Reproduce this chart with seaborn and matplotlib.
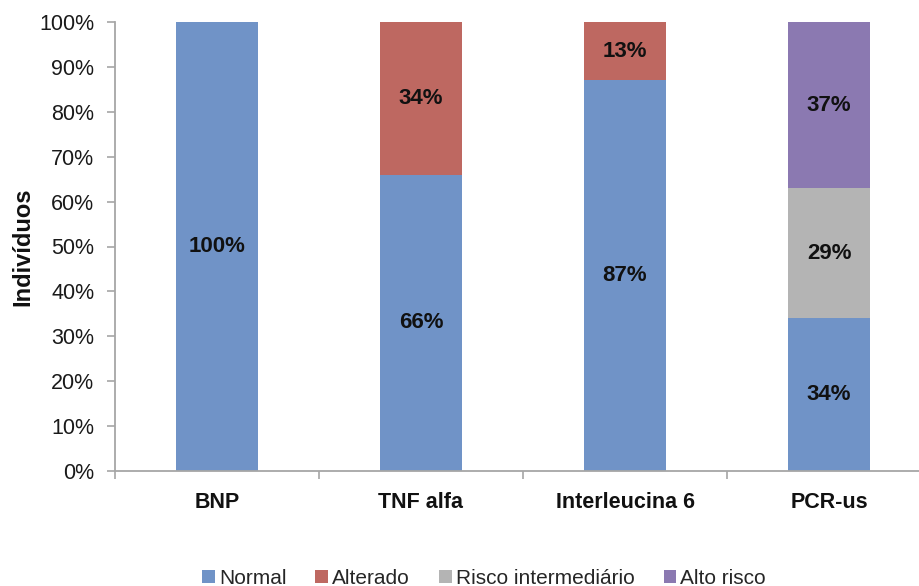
import matplotlib
matplotlib.use("Agg")
import matplotlib.pyplot as plt
from matplotlib.patches import Patch
from matplotlib.ticker import FixedLocator, PercentFormatter
import numpy as np
import pandas as pd
import seaborn as sns

# Marcadores e percentuais de indivíduos por classificação
categorias = ["BNP", "TNF alfa", "Interleucina 6", "PCR-us"]
series = ["Normal", "Alterado", "Risco intermediário", "Alto risco"]
normal = [100, 66, 87, 34]
alterado = [0, 34, 13, 0]
risco_intermediario = [0, 0, 0, 29]
alto_risco = [0, 0, 0, 37]
cores = ["#7093C7", "#BE6861", "#B4B4B4", "#8B79B1"]

valores = np.array([normal, alterado, risco_intermediario, alto_risco], dtype=float)
acumulado = np.cumsum(valores, axis=0)

sns.set_theme(style="white")
plt.rcParams["font.family"] = ["Liberation Sans", "DejaVu Sans"]

fig = plt.figure(figsize=(9.19, 5.86), dpi=100)
ax = fig.add_axes([115 / 919, 115 / 586, 1 - 115 / 919, (471 - 22) / 586])

# Empilhamento: desenha do topo acumulado para a base, cada camada cobrindo a anterior
for i in range(len(series) - 1, -1, -1):
    df = pd.DataFrame({"marcador": categorias, "topo": acumulado[i], "valor": valores[i]})
    df = df[df["valor"] > 0]
    sns.barplot(data=df, x="marcador", y="topo", order=categorias, color=cores[i],
                width=0.4, saturation=1, ax=ax, errorbar=None, linewidth=0)

# Rótulos de valor no centro de cada segmento
for i in range(len(series)):
    for j, cat in enumerate(categorias):
        v = valores[i][j]
        if v > 0:
            meio = acumulado[i][j] - v / 2
            ax.text(j, meio, f"{v:.0f}%", ha="center", va="center",
                    fontsize=16, fontweight="bold", color="#111111")

ax.set_xlim(-0.5, -0.5 + (919 - 115) / 204)
ax.set_ylim(0, 100)
ax.set_yticks(np.arange(0, 101, 10))
ax.yaxis.set_major_formatter(PercentFormatter(decimals=0))
ax.xaxis.set_minor_locator(FixedLocator([-0.5, 0.5, 1.5, 2.5, 3.5]))

ax.tick_params(axis="x", which="major", length=0, pad=15, labelsize=15.5)
ax.tick_params(axis="x", which="minor", length=6, width=1.2, color="#A6A6A6", direction="out", bottom=True)
ax.tick_params(axis="y", which="major", length=6, width=1.2, color="#A6A6A6", direction="out",
               pad=9, labelsize=15.5, left=True, labelcolor="#1a1a1a")
for lbl in ax.get_xticklabels():
    lbl.set_fontweight("bold")
    lbl.set_color("#111111")

ax.set_xlabel("")
ax.set_ylabel("Indivíduos", fontsize=17, fontweight="bold", color="#111111")
ax.yaxis.label.set_va("center")
ax.yaxis.set_label_coords((23 - 115) / 804, 0.5)

sns.despine(ax=ax, top=True, right=True)
for s in ["left", "bottom"]:
    ax.spines[s].set_color("#A6A6A6")
    ax.spines[s].set_linewidth(1.3)

handles = [Patch(facecolor=c, edgecolor="none", label=s) for c, s in zip(cores, series)]
fig.legend(handles=handles, loc="center", bbox_to_anchor=(484 / 919, 8 / 586), ncol=4,
           frameon=False, fontsize=15, handlelength=0.6, handleheight=0.6,
           handletextpad=0.2, columnspacing=1.4)

fig.savefig("out.png", dpi=100)
